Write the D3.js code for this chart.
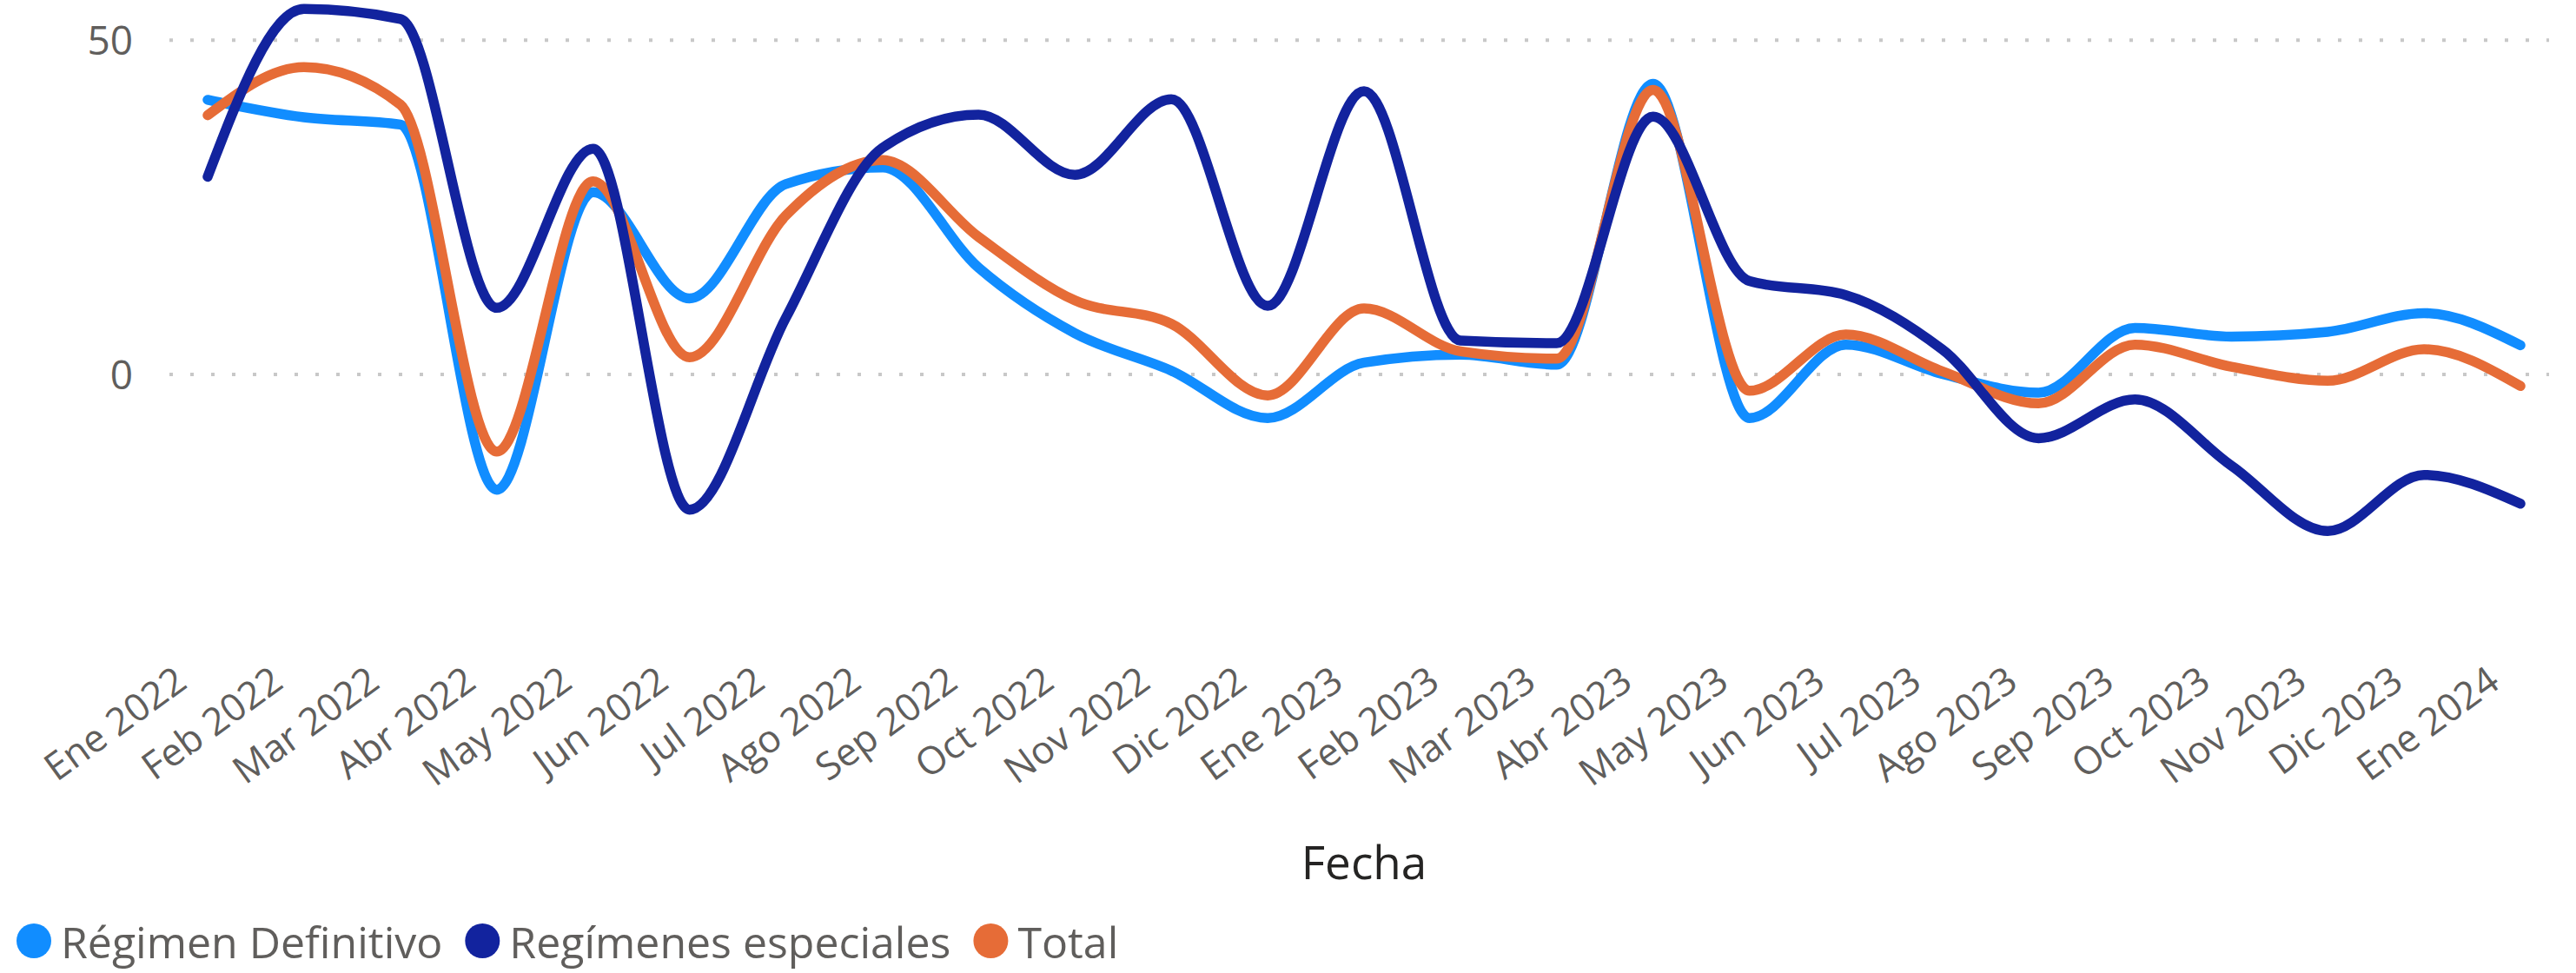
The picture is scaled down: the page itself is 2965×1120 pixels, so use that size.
<!DOCTYPE html>
<html>
<head>
<meta charset="utf-8">
<script src="https://cdn.jsdelivr.net/npm/d3@7"></script>
<style>
  body { margin: 0; background: #fff; }
  svg { display: block; font-family: "Open Sans", "Noto Sans", sans-serif; }
</style>
</head>
<body>
<svg id="chart" width="2965" height="1120"></svg>
<script>
/** datos **/
var meses = ["Ene 2022","Feb 2022","Mar 2022","Abr 2022","May 2022","Jun 2022","Jul 2022","Ago 2022",
  "Sep 2022","Oct 2022","Nov 2022","Dic 2022","Ene 2023","Feb 2023","Mar 2023","Abr 2023","May 2023",
  "Jun 2023","Jul 2023","Ago 2023","Sep 2023","Oct 2023","Nov 2023","Dic 2023","Ene 2024"];

var regimenDefinitivo = [41.0, 38.4, 37.3, -17.3, 27.2, 11.3, 28.4, 30.9, 15.9, 6.1, 0.5, -6.6, 1.7,
  2.9, 1.4, 43.4, -6.6, 4.4, 0.0, -2.8, 6.9, 5.6, 6.3, 9.1, 4.3];
var regimenesEspeciales = [29.5, 54.6, 53.1, 9.9, 33.7, -20.3, 8.4, 33.8, 38.8, 29.8, 41.1, 10.2, 42.3,
  5.0, 4.6, 38.5, 13.9, 11.8, 3.7, -9.6, -3.8, -13.7, -23.5, -15.1, -19.4];
var total = [38.7, 45.9, 40.3, -11.6, 28.8, 2.5, 23.7, 32.0, 20.5, 11.0, 7.5, -3.2, 9.8,
  3.4, 2.3, 42.5, -2.5, 5.9, 0.4, -4.4, 4.4, 1.1, -1.0, 3.7, -1.8];

var yTicks = [0, 50];
var series = [
  { nombre: "Régimen Definitivo", valores: regimenDefinitivo, color: "#118DFF" },
  { nombre: "Regímenes especiales", valores: regimenesEspeciales, color: "#12239E" },
  { nombre: "Total", valores: total, color: "#E66C37" }
];
// orden de pintado: azul claro, naranja, azul oscuro encima
var ordenPintado = [0, 2, 1];

/** escalas **/
var svg = d3.select("#chart");
var gridIni = 195, gridFin = 2934;

var x = d3.scalePoint().domain(meses).range([239, 2901]);
var y = d3.scaleLinear().domain([0, 50]).range([430.5, 45.7]);

// eje y + rejilla punteada
var ejeY = svg.append("g")
  .attr("transform", "translate(" + gridIni + ",0)")
  .call(d3.axisLeft(y).tickValues(yTicks).tickSize(-(gridFin - gridIni)).tickPadding(42));
ejeY.select(".domain").remove();
ejeY.selectAll(".tick line")
  .attr("stroke", "#c8c8c8")
  .attr("stroke-width", 4)
  .attr("stroke-dasharray", "4 20");
ejeY.selectAll(".tick text")
  .attr("fill", "#605E5C")
  .attr("font-family", "Open Sans")
  .attr("font-size", 46)
  .attr("dy", "0.36em");

// eje x
var ejeX = svg.append("g")
  .call(d3.axisBottom(x).tickSize(0));
ejeX.select(".domain").remove();
ejeX.selectAll(".tick text")
  .attr("fill", "#605E5C")
  .attr("font-family", "Open Sans")
  .attr("font-size", 44)
  .attr("y", 0)
  .attr("dy", 0)
  .attr("text-anchor", "end")
  .attr("transform", "translate(-22,790) rotate(-36)");

// titulo eje x
svg.append("text")
  .attr("x", 1570).attr("y", 1012)
  .attr("text-anchor", "middle")
  .attr("font-family", "Open Sans")
  .attr("font-size", 53)
  .attr("fill", "#252423")
  .text("Fecha");

// lineas
var linea = d3.line()
  .x(function(d, i) { return x(meses[i]); })
  .y(function(d) { return y(d); })
  .curve(d3.curveMonotoneX);

ordenPintado.forEach(function(k) {
  var s = series[k];
  svg.append("path")
    .datum(s.valores)
    .attr("fill", "none")
    .attr("stroke", s.color)
    .attr("stroke-width", 11.5)
    .attr("stroke-linecap", "round")
    .attr("stroke-linejoin", "round")
    .attr("d", linea);
});

// leyenda
var leyenda = svg.append("g");
var cx = 39;
series.forEach(function(s) {
  leyenda.append("circle")
    .attr("cx", cx).attr("cy", 1083).attr("r", 20)
    .attr("fill", s.color);
  var t = leyenda.append("text")
    .attr("x", cx + 31).attr("y", 1103)
    .attr("font-family", "Open Sans")
    .attr("font-size", 50)
    .attr("fill", "#605E5C")
    .text(s.nombre);
  cx = cx + 31 + t.node().getComputedTextLength() + 46;
});
</script>
</body>
</html>
